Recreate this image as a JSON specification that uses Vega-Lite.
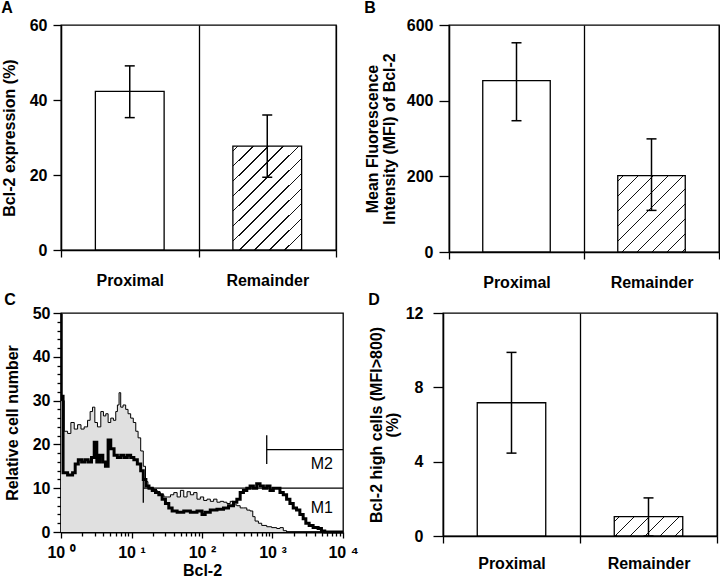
{
  "$schema": "https://vega.github.io/schema/vega-lite/v6.json",
  "padding": {"left": 0, "top": -1, "right": 0, "bottom": 0},
  "config": {
    "font": "Liberation Sans",
    "view": {"stroke": "black", "strokeWidth": 1.3},
    "axis": {
      "domainColor": "black", "tickColor": "black", "labelColor": "black", "titleColor": "black",
      "labelFont": "Liberation Sans", "titleFont": "Liberation Sans",
      "labelFontWeight": "bold", "titleFontWeight": "bold",
      "labelFontSize": 16, "titleFontSize": 16,
      "domainWidth": 1.3, "tickWidth": 1.3, "grid": false
    },
    "title": {"fontSize": 16, "fontWeight": "bold", "anchor": "start", "frame": "bounds", "color": "black", "offset": 1, "font": "Liberation Sans"}
  },
  "datasets": {
    "pct": [
      {"site": "Proximal", "value": 42.3, "lo": 35.3, "hi": 49.1},
      {"site": "Remainder", "value": 27.7, "lo": 19.4, "hi": 36.0}
    ],
    "mfi": [
      {"site": "Proximal", "value": 453, "lo": 347, "hi": 553},
      {"site": "Remainder", "value": 202, "lo": 110, "hi": 299}
    ],
    "high": [
      {"site": "Proximal", "value": 7.17, "lo": 4.46, "hi": 9.88},
      {"site": "Remainder", "value": 1.04, "lo": 0, "hi": 2.05}
    ],
    "gray": [
      {"bcl2": 1.0, "count": 30}, {"bcl2": 1.11, "count": 23}, {"bcl2": 1.24, "count": 22.5}, {"bcl2": 1.38, "count": 25},
      {"bcl2": 1.54, "count": 23.5}, {"bcl2": 1.72, "count": 24.5}, {"bcl2": 1.92, "count": 23.5}, {"bcl2": 2.13, "count": 24},
      {"bcl2": 2.38, "count": 25.5}, {"bcl2": 2.59, "count": 27.5}, {"bcl2": 2.8, "count": 28.5}, {"bcl2": 3.02, "count": 25},
      {"bcl2": 3.29, "count": 24}, {"bcl2": 3.67, "count": 27.5}, {"bcl2": 4.0, "count": 26.5}, {"bcl2": 4.32, "count": 27},
      {"bcl2": 4.66, "count": 25}, {"bcl2": 5.08, "count": 26}, {"bcl2": 5.54, "count": 25.5}, {"bcl2": 5.98, "count": 27.5},
      {"bcl2": 6.31, "count": 29}, {"bcl2": 6.66, "count": 31.8}, {"bcl2": 7.03, "count": 28.5}, {"bcl2": 7.59, "count": 29},
      {"bcl2": 8.27, "count": 28}, {"bcl2": 8.93, "count": 27}, {"bcl2": 9.73, "count": 26}, {"bcl2": 10.6, "count": 25},
      {"bcl2": 11.5, "count": 23}, {"bcl2": 12.4, "count": 21.5}, {"bcl2": 13.5, "count": 18.5}, {"bcl2": 14.7, "count": 15},
      {"bcl2": 15.8, "count": 11.5}, {"bcl2": 17.1, "count": 10}, {"bcl2": 18.7, "count": 10}, {"bcl2": 20.8, "count": 9.5},
      {"bcl2": 23.2, "count": 9}, {"bcl2": 25.8, "count": 8.5}, {"bcl2": 28.8, "count": 8}, {"bcl2": 32.1, "count": 8},
      {"bcl2": 35.7, "count": 8.5}, {"bcl2": 39.8, "count": 9}, {"bcl2": 44.4, "count": 8}, {"bcl2": 49.4, "count": 9.5},
      {"bcl2": 55.1, "count": 8}, {"bcl2": 61.4, "count": 9.2}, {"bcl2": 68.4, "count": 8.5}, {"bcl2": 76.2, "count": 9},
      {"bcl2": 84.9, "count": 7.5}, {"bcl2": 94.7, "count": 8}, {"bcl2": 105.6, "count": 7.2}, {"bcl2": 117.7, "count": 7.5},
      {"bcl2": 131.2, "count": 7}, {"bcl2": 146.2, "count": 7.5}, {"bcl2": 162.9, "count": 6.8}, {"bcl2": 181.5, "count": 7},
      {"bcl2": 202.3, "count": 6.8}, {"bcl2": 225.4, "count": 6.5}, {"bcl2": 251.2, "count": 7}, {"bcl2": 280, "count": 6.2},
      {"bcl2": 312, "count": 6}, {"bcl2": 348, "count": 5.5}, {"bcl2": 387, "count": 5.5}, {"bcl2": 432, "count": 5},
      {"bcl2": 481, "count": 4.8}, {"bcl2": 525, "count": 3.5}, {"bcl2": 566, "count": 2.5}, {"bcl2": 631, "count": 2},
      {"bcl2": 703, "count": 1.5}, {"bcl2": 828, "count": 1.2}, {"bcl2": 973, "count": 1}, {"bcl2": 1146, "count": 0.8},
      {"bcl2": 1276, "count": 1}, {"bcl2": 1422, "count": 0.3}, {"bcl2": 1585, "count": 0}, {"bcl2": 10000, "count": 0}
    ],
    "black": [
      {"bcl2": 1.0, "count": 31}, {"bcl2": 1.07, "count": 13.5}, {"bcl2": 1.24, "count": 13}, {"bcl2": 1.46, "count": 13.5},
      {"bcl2": 1.59, "count": 15.5}, {"bcl2": 1.76, "count": 16.5}, {"bcl2": 1.96, "count": 16}, {"bcl2": 2.18, "count": 16.5},
      {"bcl2": 2.43, "count": 16}, {"bcl2": 2.71, "count": 17}, {"bcl2": 2.96, "count": 20.5}, {"bcl2": 3.22, "count": 16},
      {"bcl2": 3.55, "count": 17.5}, {"bcl2": 3.92, "count": 16}, {"bcl2": 4.27, "count": 15}, {"bcl2": 4.66, "count": 21},
      {"bcl2": 5.08, "count": 19}, {"bcl2": 5.66, "count": 17.5}, {"bcl2": 6.31, "count": 17}, {"bcl2": 7.03, "count": 17.5},
      {"bcl2": 7.83, "count": 17}, {"bcl2": 8.73, "count": 17.5}, {"bcl2": 9.73, "count": 17}, {"bcl2": 10.8, "count": 16.5},
      {"bcl2": 12.1, "count": 15.5}, {"bcl2": 13.5, "count": 14}, {"bcl2": 14.7, "count": 12}, {"bcl2": 16.0, "count": 10.5},
      {"bcl2": 17.7, "count": 10}, {"bcl2": 19.7, "count": 9.5}, {"bcl2": 21.9, "count": 9}, {"bcl2": 24.4, "count": 8.5},
      {"bcl2": 27.2, "count": 7.5}, {"bcl2": 30.3, "count": 6.5}, {"bcl2": 33.8, "count": 5.5}, {"bcl2": 37.7, "count": 4.8},
      {"bcl2": 44.4, "count": 4.5}, {"bcl2": 55.1, "count": 4.8}, {"bcl2": 68.4, "count": 4.5}, {"bcl2": 84.9, "count": 4.8},
      {"bcl2": 100, "count": 4}, {"bcl2": 111, "count": 4.5}, {"bcl2": 131, "count": 5}, {"bcl2": 163, "count": 5.2},
      {"bcl2": 202, "count": 5.5}, {"bcl2": 238, "count": 6}, {"bcl2": 280, "count": 6.8}, {"bcl2": 312, "count": 7.5},
      {"bcl2": 348, "count": 9}, {"bcl2": 387, "count": 9.5}, {"bcl2": 432, "count": 10}, {"bcl2": 481, "count": 10.5},
      {"bcl2": 536, "count": 10}, {"bcl2": 597, "count": 11}, {"bcl2": 666, "count": 10.5}, {"bcl2": 743, "count": 10},
      {"bcl2": 828, "count": 10.5}, {"bcl2": 922, "count": 9.5}, {"bcl2": 1028, "count": 10}, {"bcl2": 1146, "count": 10},
      {"bcl2": 1276, "count": 9}, {"bcl2": 1422, "count": 8.5}, {"bcl2": 1585, "count": 7.5}, {"bcl2": 1766, "count": 6.5},
      {"bcl2": 1968, "count": 5.5}, {"bcl2": 2193, "count": 5}, {"bcl2": 2443, "count": 4}, {"bcl2": 2723, "count": 3},
      {"bcl2": 2970, "count": 2}, {"bcl2": 3311, "count": 1.5}, {"bcl2": 3768, "count": 1}, {"bcl2": 4440, "count": 0.8},
      {"bcl2": 4944, "count": 0.2}, {"bcl2": 5510, "count": 0}, {"bcl2": 10000, "count": 0}
    ],
    "markers": [
      {"label": "M1", "start": 14.7, "end": 10000, "level": 10, "lo": 6.7, "hi": 13.3, "textY": 4.4},
      {"label": "M2", "start": 828, "end": 10000, "level": 18.8, "lo": 15.5, "hi": 22.1, "textY": 14.4}
    ]
  },
  "spacing": 0,
  "vconcat": [
    {
      "spacing": 25,
      "hconcat": [
        {
          "title": "A",
          "width": 275, "height": 225,
          "data": {"name": "pct"},
          "encoding": {
            "x": {"field": "site", "type": "nominal", "scale": {"paddingInner": 0, "paddingOuter": 0},
              "axis": {"title": null, "tickBand": "extent", "grid": true, "gridColor": "black", "gridOpacity": 1, "gridWidth": 1.3, "labelAngle": 0, "labelPadding": 15, "tickSize": 7}}
          },
          "layer": [
            {"transform": [{"filter": "datum.site == 'Proximal'"}],
             "mark": {"type": "bar", "fill": "white", "stroke": "black", "strokeWidth": 1.3, "width": {"band": 0.5}},
             "encoding": {"y": {"field": "value", "type": "quantitative", "scale": {"domain": [0, 60]}, "title": "Bcl-2 expression (%)",
               "axis": {"values": [0, 20, 40, 60], "tickSize": 8, "labelPadding": 6, "titlePadding": 12}}}},
            {"transform": [{"filter": "datum.site == 'Remainder'"}],
             "mark": {"type": "bar", "stroke": "black", "strokeWidth": 1.3, "width": {"band": 0.5},
               "fill": {"gradient": "linear", "x1": 0, "y1": 0, "x2": 0.758, "y2": 1.158, "stops": [
                 {"offset": 0, "color": "white"},
                 {"offset": 0.0255, "color": "white"}, {"offset": 0.0255, "color": "#111"}, {"offset": 0.0345, "color": "#111"}, {"offset": 0.0345, "color": "white"},
                 {"offset": 0.1128, "color": "white"}, {"offset": 0.1128, "color": "#111"}, {"offset": 0.1218, "color": "#111"}, {"offset": 0.1218, "color": "white"},
                 {"offset": 0.2001, "color": "white"}, {"offset": 0.2001, "color": "#111"}, {"offset": 0.2091, "color": "#111"}, {"offset": 0.2091, "color": "white"},
                 {"offset": 0.2874, "color": "white"}, {"offset": 0.2874, "color": "#111"}, {"offset": 0.2964, "color": "#111"}, {"offset": 0.2964, "color": "white"},
                 {"offset": 0.3747, "color": "white"}, {"offset": 0.3747, "color": "#111"}, {"offset": 0.3837, "color": "#111"}, {"offset": 0.3837, "color": "white"},
                 {"offset": 0.4620, "color": "white"}, {"offset": 0.4620, "color": "#111"}, {"offset": 0.4710, "color": "#111"}, {"offset": 0.4710, "color": "white"},
                 {"offset": 0.5493, "color": "white"}, {"offset": 0.5493, "color": "#111"}, {"offset": 0.5583, "color": "#111"}, {"offset": 0.5583, "color": "white"},
                 {"offset": 0.6366, "color": "white"}, {"offset": 0.6366, "color": "#111"}, {"offset": 0.6456, "color": "#111"}, {"offset": 0.6456, "color": "white"},
                 {"offset": 0.7239, "color": "white"}, {"offset": 0.7239, "color": "#111"}, {"offset": 0.7329, "color": "#111"}, {"offset": 0.7329, "color": "white"},
                 {"offset": 0.8112, "color": "white"}, {"offset": 0.8112, "color": "#111"}, {"offset": 0.8202, "color": "#111"}, {"offset": 0.8202, "color": "white"},
                 {"offset": 0.8985, "color": "white"}, {"offset": 0.8985, "color": "#111"}, {"offset": 0.9075, "color": "#111"}, {"offset": 0.9075, "color": "white"},
                 {"offset": 0.9858, "color": "white"}, {"offset": 0.9858, "color": "#111"}, {"offset": 0.9948, "color": "#111"}, {"offset": 0.9948, "color": "white"},
                 {"offset": 1, "color": "white"}]}},
             "encoding": {"y": {"field": "value", "type": "quantitative", "title": "Bcl-2 expression (%)"}}},
            {"mark": {"type": "rule", "color": "black", "strokeWidth": 1.5},
             "encoding": {"y": {"field": "lo", "type": "quantitative", "title": "Bcl-2 expression (%)"}, "y2": {"field": "hi"}}},
            {"mark": {"type": "tick", "color": "black", "thickness": 1.5, "size": 10, "opacity": 1},
             "encoding": {"y": {"field": "lo", "type": "quantitative", "title": "Bcl-2 expression (%)"}}},
            {"mark": {"type": "tick", "color": "black", "thickness": 1.5, "size": 10, "opacity": 1},
             "encoding": {"y": {"field": "hi", "type": "quantitative", "title": "Bcl-2 expression (%)"}}}
          ]
        },
        {
          "title": "B",
          "width": 270, "height": 227,
          "data": {"name": "mfi"},
          "encoding": {
            "x": {"field": "site", "type": "nominal", "scale": {"paddingInner": 0, "paddingOuter": 0},
              "axis": {"title": null, "tickBand": "extent", "grid": true, "gridColor": "black", "gridOpacity": 1, "gridWidth": 1.3, "labelAngle": 0, "labelPadding": 15, "tickSize": 7}}
          },
          "layer": [
            {"transform": [{"filter": "datum.site == 'Proximal'"}],
             "mark": {"type": "bar", "fill": "white", "stroke": "black", "strokeWidth": 1.3, "width": {"band": 0.5}},
             "encoding": {"y": {"field": "value", "type": "quantitative", "scale": {"domain": [0, 600]}, "title": ["Mean Fluorescence", "Intensity (MFI) of Bcl-2"],
               "axis": {"values": [0, 200, 400, 600], "tickSize": 10, "labelPadding": 6, "titlePadding": 9, "titleLineHeight": 17}}}},
            {"transform": [{"filter": "datum.site == 'Remainder'"}],
             "mark": {"type": "bar", "stroke": "black", "strokeWidth": 1.3, "width": {"band": 0.5},
               "fill": {"gradient": "linear", "x1": 0, "y1": 0, "x2": 0.9346, "y2": 1.0578, "stops": [
                 {"offset": 0, "color": "white"},
                 {"offset": 0.0345, "color": "white"}, {"offset": 0.0345, "color": "#111"}, {"offset": 0.0455, "color": "#111"}, {"offset": 0.0455, "color": "white"},
                 {"offset": 0.1387, "color": "white"}, {"offset": 0.1387, "color": "#111"}, {"offset": 0.1497, "color": "#111"}, {"offset": 0.1497, "color": "white"},
                 {"offset": 0.2429, "color": "white"}, {"offset": 0.2429, "color": "#111"}, {"offset": 0.2539, "color": "#111"}, {"offset": 0.2539, "color": "white"},
                 {"offset": 0.3471, "color": "white"}, {"offset": 0.3471, "color": "#111"}, {"offset": 0.3581, "color": "#111"}, {"offset": 0.3581, "color": "white"},
                 {"offset": 0.4513, "color": "white"}, {"offset": 0.4513, "color": "#111"}, {"offset": 0.4623, "color": "#111"}, {"offset": 0.4623, "color": "white"},
                 {"offset": 0.5555, "color": "white"}, {"offset": 0.5555, "color": "#111"}, {"offset": 0.5665, "color": "#111"}, {"offset": 0.5665, "color": "white"},
                 {"offset": 0.6597, "color": "white"}, {"offset": 0.6597, "color": "#111"}, {"offset": 0.6707, "color": "#111"}, {"offset": 0.6707, "color": "white"},
                 {"offset": 0.7639, "color": "white"}, {"offset": 0.7639, "color": "#111"}, {"offset": 0.7749, "color": "#111"}, {"offset": 0.7749, "color": "white"},
                 {"offset": 0.8681, "color": "white"}, {"offset": 0.8681, "color": "#111"}, {"offset": 0.8791, "color": "#111"}, {"offset": 0.8791, "color": "white"},
                 {"offset": 0.9723, "color": "white"}, {"offset": 0.9723, "color": "#111"}, {"offset": 0.9833, "color": "#111"}, {"offset": 0.9833, "color": "white"},
                 {"offset": 1, "color": "white"}]}},
             "encoding": {"y": {"field": "value", "type": "quantitative", "title": ["Mean Fluorescence", "Intensity (MFI) of Bcl-2"]}}},
            {"mark": {"type": "rule", "color": "black", "strokeWidth": 1.5},
             "encoding": {"y": {"field": "lo", "type": "quantitative", "title": ["Mean Fluorescence", "Intensity (MFI) of Bcl-2"]}, "y2": {"field": "hi"}}},
            {"mark": {"type": "tick", "color": "black", "thickness": 1.5, "size": 10, "opacity": 1},
             "encoding": {"y": {"field": "lo", "type": "quantitative", "title": ["Mean Fluorescence", "Intensity (MFI) of Bcl-2"]}}},
            {"mark": {"type": "tick", "color": "black", "thickness": 1.5, "size": 10, "opacity": 1},
             "encoding": {"y": {"field": "hi", "type": "quantitative", "title": ["Mean Fluorescence", "Intensity (MFI) of Bcl-2"]}}}
          ]
        }
      ]
    },
    {
      "spacing": 8,
      "hconcat": [
        {
          "title": {"text": "C", "offset": -3},
          "width": 282, "height": 219,
          "encoding": {
            "x": {"field": "bcl2", "type": "quantitative", "scale": {"type": "log", "domain": [1, 10000]},
              "axis": {"title": "Bcl-2", "values": [1, 2, 3, 4, 5, 6, 7, 8, 9, 10, 20, 30, 40, 50, 60, 70, 80, 90, 100, 200, 300, 400, 500, 600, 700, 800, 900, 1000, 2000, 3000, 4000, 5000, 6000, 7000, 8000, 9000, 10000],
                "labelExpr": "datum.value == 1 ? '10 ⁰' : datum.value == 10 ? '10 ¹' : datum.value == 100 ? '10 ²' : datum.value == 1000 ? '10 ³' : datum.value == 10000 ? '10 ⁴' : ''",
                "labelOverlap": false, "labelBound": false, "labelFlush": false, "labelPadding": 6, "titlePadding": 2, "domainWidth": 2,
                "tickSize": {"condition": {"test": "indexof([1, 10, 100, 1000, 10000], datum.value) >= 0", "value": 6}, "value": 4}}},
            "y": {"field": "count", "type": "quantitative", "scale": {"domain": [0, 50]},
              "axis": {"title": "Relative cell number", "values": [0, 2, 4, 6, 8, 10, 12, 14, 16, 18, 20, 22, 24, 26, 28, 30, 32, 34, 36, 38, 40, 42, 44, 46, 48, 50],
                "labelExpr": "datum.value % 10 == 0 ? datum.label : ''", "labelOverlap": false, "labelPadding": 3, "titlePadding": 12, "domainWidth": 2.5,
                "tickSize": {"condition": {"test": "datum.value % 10 == 0", "value": 8}, "value": 4}}}
          },
          "layer": [
            {"data": {"name": "gray"}, "mark": {"type": "area", "interpolate": "step-after", "color": "#e0e0e0"}, "encoding": {}},
            {"data": {"name": "gray"}, "mark": {"type": "line", "interpolate": "step-after", "color": "black", "strokeWidth": 1}, "encoding": {}},
            {"data": {"name": "markers"}, "mark": {"type": "rule", "color": "black", "strokeWidth": 1.3},
             "encoding": {"x": {"field": "start", "type": "quantitative"}, "x2": {"field": "end"}, "y": {"field": "level", "type": "quantitative"}}},
            {"data": {"name": "markers"}, "mark": {"type": "rule", "color": "black", "strokeWidth": 1.3},
             "encoding": {"x": {"field": "start", "type": "quantitative"}, "y": {"field": "lo", "type": "quantitative"}, "y2": {"field": "hi"}}},
            {"data": {"name": "black"}, "mark": {"type": "line", "interpolate": "step-after", "color": "black", "strokeWidth": 3}, "encoding": {}},
            {"data": {"name": "markers"}, "mark": {"type": "text", "align": "right", "baseline": "alphabetic", "dx": -10, "fontSize": 16, "font": "Liberation Sans", "color": "black"},
             "encoding": {"x": {"field": "end", "type": "quantitative"}, "y": {"field": "textY", "type": "quantitative"}, "text": {"field": "label"}}}
          ]
        },
        {
          "title": {"text": "D", "offset": -3},
          "width": 274, "height": 223,
          "data": {"name": "high"},
          "encoding": {
            "x": {"field": "site", "type": "nominal", "scale": {"paddingInner": 0, "paddingOuter": 0},
              "axis": {"title": null, "tickBand": "extent", "grid": true, "gridColor": "black", "gridOpacity": 1, "gridWidth": 1.3, "labelAngle": 0, "labelPadding": 12, "tickSize": 7}}
          },
          "layer": [
            {"transform": [{"filter": "datum.site == 'Proximal'"}],
             "mark": {"type": "bar", "fill": "white", "stroke": "black", "strokeWidth": 1.3, "width": {"band": 0.5}},
             "encoding": {"y": {"field": "value", "type": "quantitative", "scale": {"domain": [0, 12]}, "title": ["Bcl-2 high cells (MFI>800)", "(%)"],
               "axis": {"values": [0, 4, 8, 12], "tickSize": 10, "labelPadding": 10, "titlePadding": 5, "titleLineHeight": 16}}}},
            {"transform": [{"filter": "datum.site == 'Remainder'"}],
             "mark": {"type": "bar", "stroke": "black", "strokeWidth": 1.3, "width": {"band": 0.5},
               "fill": {"gradient": "linear", "x1": 0, "y1": 0, "x2": 1.1874, "y2": 0.3346, "stops": [
                 {"offset": 0, "color": "white"},
                 {"offset": 0.051, "color": "white"}, {"offset": 0.051, "color": "#111"}, {"offset": 0.069, "color": "#111"}, {"offset": 0.069, "color": "white"},
                 {"offset": 0.2218, "color": "white"}, {"offset": 0.2218, "color": "#111"}, {"offset": 0.2398, "color": "#111"}, {"offset": 0.2398, "color": "white"},
                 {"offset": 0.3926, "color": "white"}, {"offset": 0.3926, "color": "#111"}, {"offset": 0.4106, "color": "#111"}, {"offset": 0.4106, "color": "white"},
                 {"offset": 0.5634, "color": "white"}, {"offset": 0.5634, "color": "#111"}, {"offset": 0.5814, "color": "#111"}, {"offset": 0.5814, "color": "white"},
                 {"offset": 0.7342, "color": "white"}, {"offset": 0.7342, "color": "#111"}, {"offset": 0.7522, "color": "#111"}, {"offset": 0.7522, "color": "white"},
                 {"offset": 0.9050, "color": "white"}, {"offset": 0.9050, "color": "#111"}, {"offset": 0.9230, "color": "#111"}, {"offset": 0.9230, "color": "white"},
                 {"offset": 1, "color": "white"}]}},
             "encoding": {"y": {"field": "value", "type": "quantitative", "title": ["Bcl-2 high cells (MFI>800)", "(%)"]}}},
            {"mark": {"type": "rule", "color": "black", "strokeWidth": 1.5},
             "encoding": {"y": {"field": "lo", "type": "quantitative", "title": ["Bcl-2 high cells (MFI>800)", "(%)"]}, "y2": {"field": "hi"}}},
            {"mark": {"type": "tick", "color": "black", "thickness": 1.5, "size": 10, "opacity": 1},
             "encoding": {"y": {"field": "lo", "type": "quantitative", "title": ["Bcl-2 high cells (MFI>800)", "(%)"]}}},
            {"mark": {"type": "tick", "color": "black", "thickness": 1.5, "size": 10, "opacity": 1},
             "encoding": {"y": {"field": "hi", "type": "quantitative", "title": ["Bcl-2 high cells (MFI>800)", "(%)"]}}}
          ]
        }
      ]
    }
  ]
}
